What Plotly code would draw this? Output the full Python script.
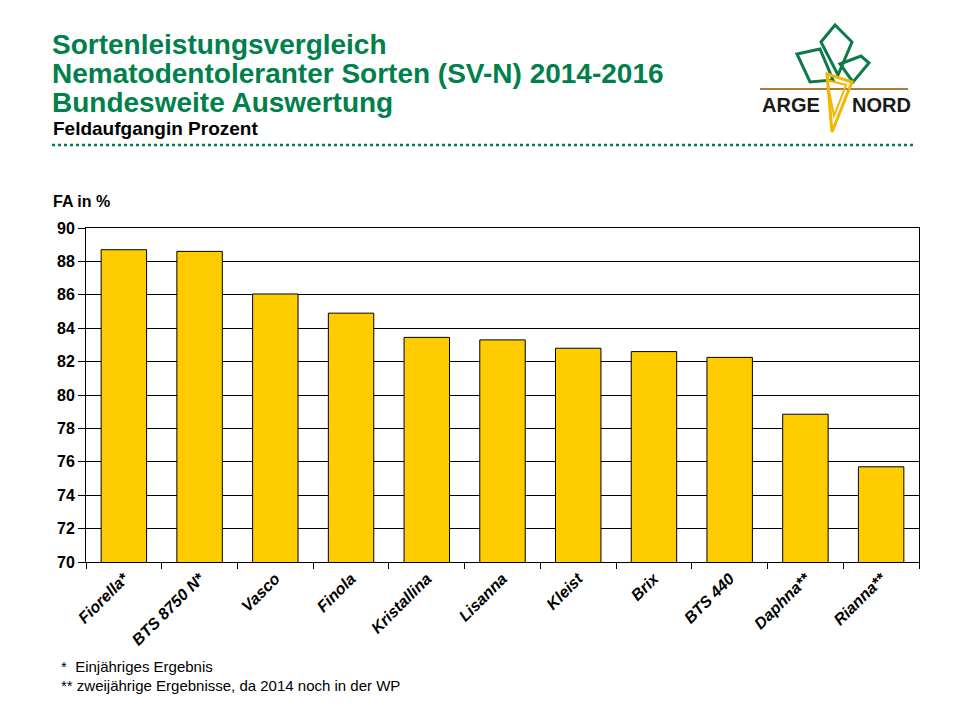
import plotly.graph_objects as go

# Feldaufgang (FA) in Prozent, SV-N 2014-2016
sorten = ["Fiorella*", "BTS 8750 N*", "Vasco", "Finola", "Kristallina", "Lisanna",
          "Kleist", "Brix", "BTS 440", "Daphna**", "Rianna**"]
feldaufgang = [88.7, 88.6, 86.05, 84.9, 83.45, 83.3, 82.8, 82.6, 82.25, 78.85, 75.7]
y_ticks = list(range(70, 91, 2))

GREEN = "#00804A"
W, H = 960, 720
OFF = 8  # page body margin
L, R, T, B = 86, 919, 228, 562  # plot area in page pixels


def px(x):
    return (x - L) / (R - L)


def py(y):
    return (B - y) / (B - T)


fig = go.Figure(
    go.Bar(
        x=sorten,
        y=feldaufgang,
        marker={"color": "#FFCC00", "line": {"color": "black", "width": 1}},
        hoverinfo="x+y",
    )
)

fig.update_layout(
    width=W,
    height=H,
    margin={"l": L - OFF, "r": W - R + OFF, "t": T - OFF, "b": H - B + OFF},
    paper_bgcolor="white",
    plot_bgcolor="white",
    showlegend=False,
    bargap=0.4,
    font={"family": "Liberation Sans, Arial, sans-serif", "color": "black"},
)

fig.update_yaxes(
    range=[70, 90],
    tickvals=y_ticks,
    ticks="outside",
    ticklen=7,
    tickcolor="black",
    tickfont={"size": 16, "family": "Liberation Sans, Arial", "weight": "bold"},
    showgrid=True,
    gridcolor="black",
    gridwidth=1,
    showline=True,
    linecolor="black",
    linewidth=1,
    mirror=True,
    zeroline=False,
)

fig.update_xaxes(
    tickangle=-45,
    ticks="outside",
    tickson="boundaries",
    ticklen=6,
    tickcolor="black",
    tickfont={"size": 16, "family": "Liberation Sans, Arial", "weight": "bold", "style": "italic"},
    showline=True,
    linecolor="black",
    linewidth=1,
    mirror=True,
    showgrid=False,
)

titles = [
    ("Sortenleistungsvergleich", 44),
    ("Nematodentoleranter Sorten (SV-N) 2014-2016", 73),
    ("Bundesweite Auswertung", 102),
]
for text, ypos in titles:
    fig.add_annotation(
        text=f"<b>{text}</b>", x=px(50), y=py(ypos), xref="paper", yref="paper",
        xanchor="left", yanchor="middle", showarrow=False,
        font={"size": 28, "color": GREEN, "family": "Liberation Sans, Arial"},
    )

fig.add_annotation(
    text="<b>Feldaufgangin Prozent</b>", x=px(51), y=py(128), xref="paper", yref="paper",
    xanchor="left", yanchor="middle", showarrow=False, font={"size": 19},
)

fig.add_shape(
    type="line", xref="paper", yref="paper", x0=px(52), x1=px(915), y0=py(145), y1=py(145),
    line={"color": GREEN, "width": 2.5, "dash": "dot"},
)

fig.add_annotation(
    text="<b>FA in %</b>", x=px(51), y=py(201), xref="paper", yref="paper",
    xanchor="left", yanchor="middle", showarrow=False, font={"size": 16},
)

footnotes = [
    ("*  Einjähriges Ergebnis", 666),
    ("** zweijährige Ergebnisse, da 2014 noch in der WP", 685),
]
for text, ypos in footnotes:
    fig.add_annotation(
        text=text, x=px(59), y=py(ypos), xref="paper", yref="paper",
        xanchor="left", yanchor="middle", showarrow=False,
        font={"size": 15, "family": "Liberation Sans, Arial"},
    )


# Logo ARGE NORD (approximated with shapes)
def path(points):
    return "M " + " L ".join(f"{px(a)},{py(b)}" for a, b in points) + " Z"


leaves = [
    [(797, 54), (820, 49), (833, 80), (810, 82)],
    [(821, 42), (835, 25), (852, 42), (838, 75)],
    [(840, 64), (861, 56), (869, 63), (853, 82)],
]
for pts in leaves:
    fig.add_shape(type="path", xref="paper", yref="paper", path=path(pts),
                  line={"color": "#0E7A4A", "width": 3}, fillcolor="rgba(0,0,0,0)")

fig.add_shape(type="line", xref="paper", yref="paper", x0=px(760), x1=px(908),
              y0=py(89), y1=py(89), line={"color": "#B07A3A", "width": 2})
fig.add_shape(type="path", xref="paper", yref="paper",
              path=path([(827, 74), (852, 82), (832, 132)]),
              line={"color": "#F2B600", "width": 3}, fillcolor="rgba(0,0,0,0)")
fig.add_shape(type="path", xref="paper", yref="paper",
              path=path([(827, 80), (846, 85), (834, 116)]),
              line={"color": "#F2B600", "width": 2}, fillcolor="rgba(0,0,0,0)")
for text, xpos in [("ARGE", 791), ("NORD", 881)]:
    fig.add_annotation(
        text=f"<b>{text}</b>", x=px(xpos), y=py(105), xref="paper", yref="paper",
        xanchor="center", yanchor="middle", showarrow=False,
        font={"size": 20, "color": "#1a1a1a", "family": "Liberation Sans, Arial"},
    )

fig.write_html("out.html")
